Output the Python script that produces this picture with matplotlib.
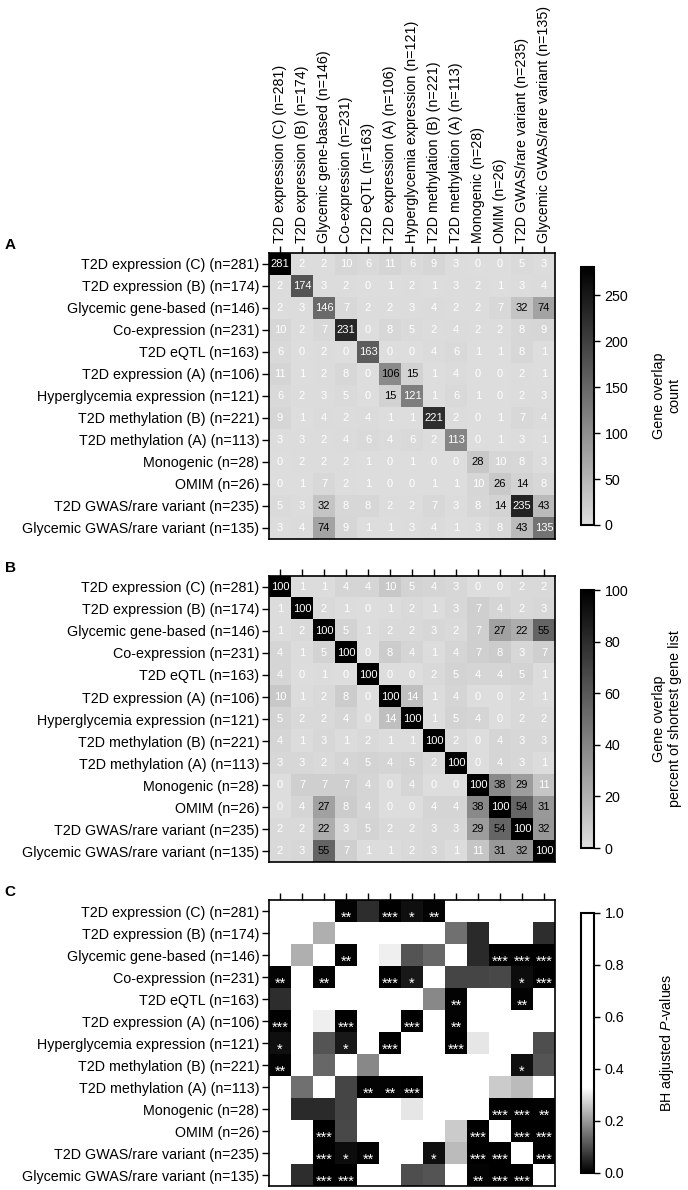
import numpy as np
import matplotlib
matplotlib.use("Agg")
import matplotlib.pyplot as plt
from matplotlib.colors import LinearSegmentedColormap

plt.rcParams['font.family'] = ['Liberation Sans', 'DejaVu Sans']
plt.rcParams['mathtext.fontset'] = 'custom'
plt.rcParams['mathtext.rm'] = 'Liberation Sans'
plt.rcParams['mathtext.it'] = 'Liberation Sans:italic'

labels = ["T2D expression (C) (n=281)", "T2D expression (B) (n=174)",
          "Glycemic gene-based (n=146)", "Co-expression (n=231)",
          "T2D eQTL (n=163)", "T2D expression (A) (n=106)",
          "Hyperglycemia expression (n=121)", "T2D methylation (B) (n=221)",
          "T2D methylation (A) (n=113)", "Monogenic (n=28)", "OMIM (n=26)",
          "T2D GWAS/rare variant (n=235)", "Glycemic GWAS/rare variant (n=135)"]

overlap_count = [
    [281, 2, 2, 10, 6, 11, 6, 9, 3, 0, 0, 5, 3],
    [2, 174, 3, 2, 0, 1, 2, 1, 3, 2, 1, 3, 4],
    [2, 3, 146, 7, 2, 2, 3, 4, 2, 2, 7, 32, 74],
    [10, 2, 7, 231, 0, 8, 5, 2, 4, 2, 2, 8, 9],
    [6, 0, 2, 0, 163, 0, 0, 4, 6, 1, 1, 8, 1],
    [11, 1, 2, 8, 0, 106, 15, 1, 4, 0, 0, 2, 1],
    [6, 2, 3, 5, 0, 15, 121, 1, 6, 1, 0, 2, 3],
    [9, 1, 4, 2, 4, 1, 1, 221, 2, 0, 1, 7, 4],
    [3, 3, 2, 4, 6, 4, 6, 2, 113, 0, 1, 3, 1],
    [0, 2, 2, 2, 1, 0, 1, 0, 0, 28, 10, 8, 3],
    [0, 1, 7, 2, 1, 0, 0, 1, 1, 10, 26, 14, 8],
    [5, 3, 32, 8, 8, 2, 2, 7, 3, 8, 14, 235, 43],
    [3, 4, 74, 9, 1, 1, 3, 4, 1, 3, 8, 43, 135],
]

overlap_percent = [
    [100, 1, 1, 4, 4, 10, 5, 4, 3, 0, 0, 2, 2],
    [1, 100, 2, 1, 0, 1, 2, 1, 3, 7, 4, 2, 3],
    [1, 2, 100, 5, 1, 2, 2, 3, 2, 7, 27, 22, 55],
    [4, 1, 5, 100, 0, 8, 4, 1, 4, 7, 8, 3, 7],
    [4, 0, 1, 0, 100, 0, 0, 2, 5, 4, 4, 5, 1],
    [10, 1, 2, 8, 0, 100, 14, 1, 4, 0, 0, 2, 1],
    [5, 2, 2, 4, 0, 14, 100, 1, 5, 4, 0, 2, 2],
    [4, 1, 3, 1, 2, 1, 1, 100, 2, 0, 4, 3, 3],
    [3, 3, 2, 4, 5, 4, 5, 2, 100, 0, 4, 3, 1],
    [0, 7, 7, 7, 4, 0, 4, 0, 0, 100, 38, 29, 11],
    [0, 4, 27, 8, 4, 0, 0, 4, 4, 38, 100, 54, 31],
    [2, 2, 22, 3, 5, 2, 2, 3, 3, 29, 54, 100, 32],
    [2, 3, 55, 7, 1, 1, 2, 3, 1, 11, 31, 32, 100],
]

N = float('nan')
bh_pvalues = [
    [N, 1.0, 1.0, 0.004, 0.06, 0.0003, 0.022, 0.004, 1.0, 1.0, 1.0, 1.0, 1.0],
    [1.0, N, 0.228, 1.0, 1.0, 1.0, 1.0, 1.0, 0.148, 0.056, 1.0, 1.0, 0.062],
    [1.0, 0.228, N, 0.004, 1.0, 0.31, 0.11, 0.135, 1.0, 0.055, 0.0003, 0.0003, 0.0003],
    [0.004, 1.0, 0.004, N, 1.0, 0.0003, 0.032, 1.0, 0.09, 0.09, 0.094, 0.018, 0.0003],
    [0.06, 1.0, 1.0, 1.0, N, 1.0, 1.0, 0.176, 0.004, 1.0, 1.0, 0.004, 1.0],
    [0.0003, 1.0, 0.31, 0.0003, 1.0, N, 0.0003, 1.0, 0.004, 1.0, 1.0, 1.0, 1.0],
    [0.022, 1.0, 0.11, 0.032, 1.0, 0.0003, N, 1.0, 0.0003, 0.30, 1.0, 1.0, 0.105],
    [0.004, 1.0, 0.135, 1.0, 0.176, 1.0, 1.0, N, 1.0, 1.0, 1.0, 0.022, 0.113],
    [1.0, 0.148, 1.0, 0.09, 0.004, 0.004, 0.0003, 1.0, N, 1.0, 0.264, 0.245, 1.0],
    [1.0, 0.056, 0.055, 0.09, 1.0, 1.0, 0.30, 1.0, 1.0, N, 0.0003, 0.0003, 0.004],
    [1.0, 1.0, 0.0003, 0.094, 1.0, 1.0, 1.0, 1.0, 0.264, 0.0003, N, 0.0003, 0.0003],
    [1.0, 1.0, 0.0003, 0.018, 0.004, 1.0, 1.0, 0.022, 0.245, 0.0003, 0.0003, N, 0.0003],
    [1.0, 0.062, 0.0003, 0.0003, 1.0, 1.0, 0.105, 0.113, 1.0, 0.004, 0.0003, 0.0003, N],
]

W, H = 688, 1190
fig = plt.figure(figsize=(W / 100, H / 100), dpi=100)

def ax_rect(x0, y0, x1, y1):
    return [x0 / W, 1 - y1 / H, (x1 - x0) / W, (y1 - y0) / H]

gray_cmap = LinearSegmentedColormap.from_list("g", [(0.87, 0.87, 0.87), (0, 0, 0)])
p_cmap = LinearSegmentedColormap.from_list("p", [(0.0, (0, 0, 0)), (0.33, (1, 1, 1)), (1.0, (1, 1, 1))])
p_cmap.set_bad('white')

n = len(labels)
panels = [
    dict(data=np.array(overlap_count, float), cmap=gray_cmap, vmin=0, vmax=281,
         y=(253, 539), cb=(267, 525), ticks=[0, 50, 100, 150, 200, 250], fmt=None,
         cblabel="Gene overlap\ncount", letter="A"),
    dict(data=np.array(overlap_percent, float), cmap=gray_cmap, vmin=0, vmax=100,
         y=(576, 862), cb=(590, 848), ticks=[0, 20, 40, 60, 80, 100], fmt=None,
         cblabel="Gene overlap\npercent of shortest gene list", letter="B"),
    dict(data=np.array(bh_pvalues, float), cmap=p_cmap, vmin=0, vmax=1,
         y=(900, 1186), cb=(913, 1173), ticks=[0.0, 0.2, 0.4, 0.6, 0.8, 1.0], fmt="%.1f",
         cblabel="BH adjusted $\\it{P}$-values", letter="C"),
]

for k, p in enumerate(panels):
    ax = fig.add_axes(ax_rect(269, p['y'][0], 555, p['y'][1]))
    im = ax.imshow(p['data'], cmap=p['cmap'], vmin=p['vmin'], vmax=p['vmax'],
                   aspect='auto', interpolation='nearest')
    ax.set_xticks(range(n))
    ax.set_yticks(range(n))
    ax.set_yticklabels(labels, fontsize=10.3)
    ax.xaxis.tick_top()
    if k == 0:
        ax.set_xticklabels(labels, rotation=90, fontsize=10.3)
    else:
        ax.set_xticklabels([])
    ax.tick_params(length=5, width=1, pad=2)
    for s in ax.spines.values():
        s.set_linewidth(1.2)
    d = p['data']
    for i in range(n):
        for j in range(n):
            v = d[i, j]
            if k == 0:
                col = 'white' if (v < 14 or v >= 110) else 'black'
                ax.text(j, i, f"{int(v)}", ha='center', va='center', fontsize=8, color=col)
            elif k == 1:
                col = 'white' if (v < 15 or v >= 60) else 'black'
                ax.text(j, i, f"{int(v)}", ha='center', va='center', fontsize=8, color=col)
            else:
                if np.isnan(v):
                    continue
                stars = '***' if v < 0.001 else ('**' if v < 0.01 else ('*' if v < 0.05 else ''))
                if stars:
                    ax.text(j, i + 0.3, stars, ha='center', va='center', fontsize=10.5, color='white')
    cax = fig.add_axes(ax_rect(581, p['cb'][0], 594, p['cb'][1]))
    cb = fig.colorbar(im, cax=cax, ticks=p['ticks'], format=p['fmt'])
    cb.outline.set_linewidth(1.5)
    cax.tick_params(labelsize=10.3, length=4, width=1)
    yc = (p['cb'][0] + p['cb'][1]) / 2
    fig.text(667 / W, 1 - yc / H, p['cblabel'], rotation=90, ha='center', va='center',
             fontsize=10.3, multialignment='center', linespacing=1.1)
    fig.text(10 / W, 1 - (p['y'][0] - 8) / H, p['letter'], ha='center', va='center',
             fontsize=11, fontweight='bold')

fig.savefig("out.png", dpi=100)
